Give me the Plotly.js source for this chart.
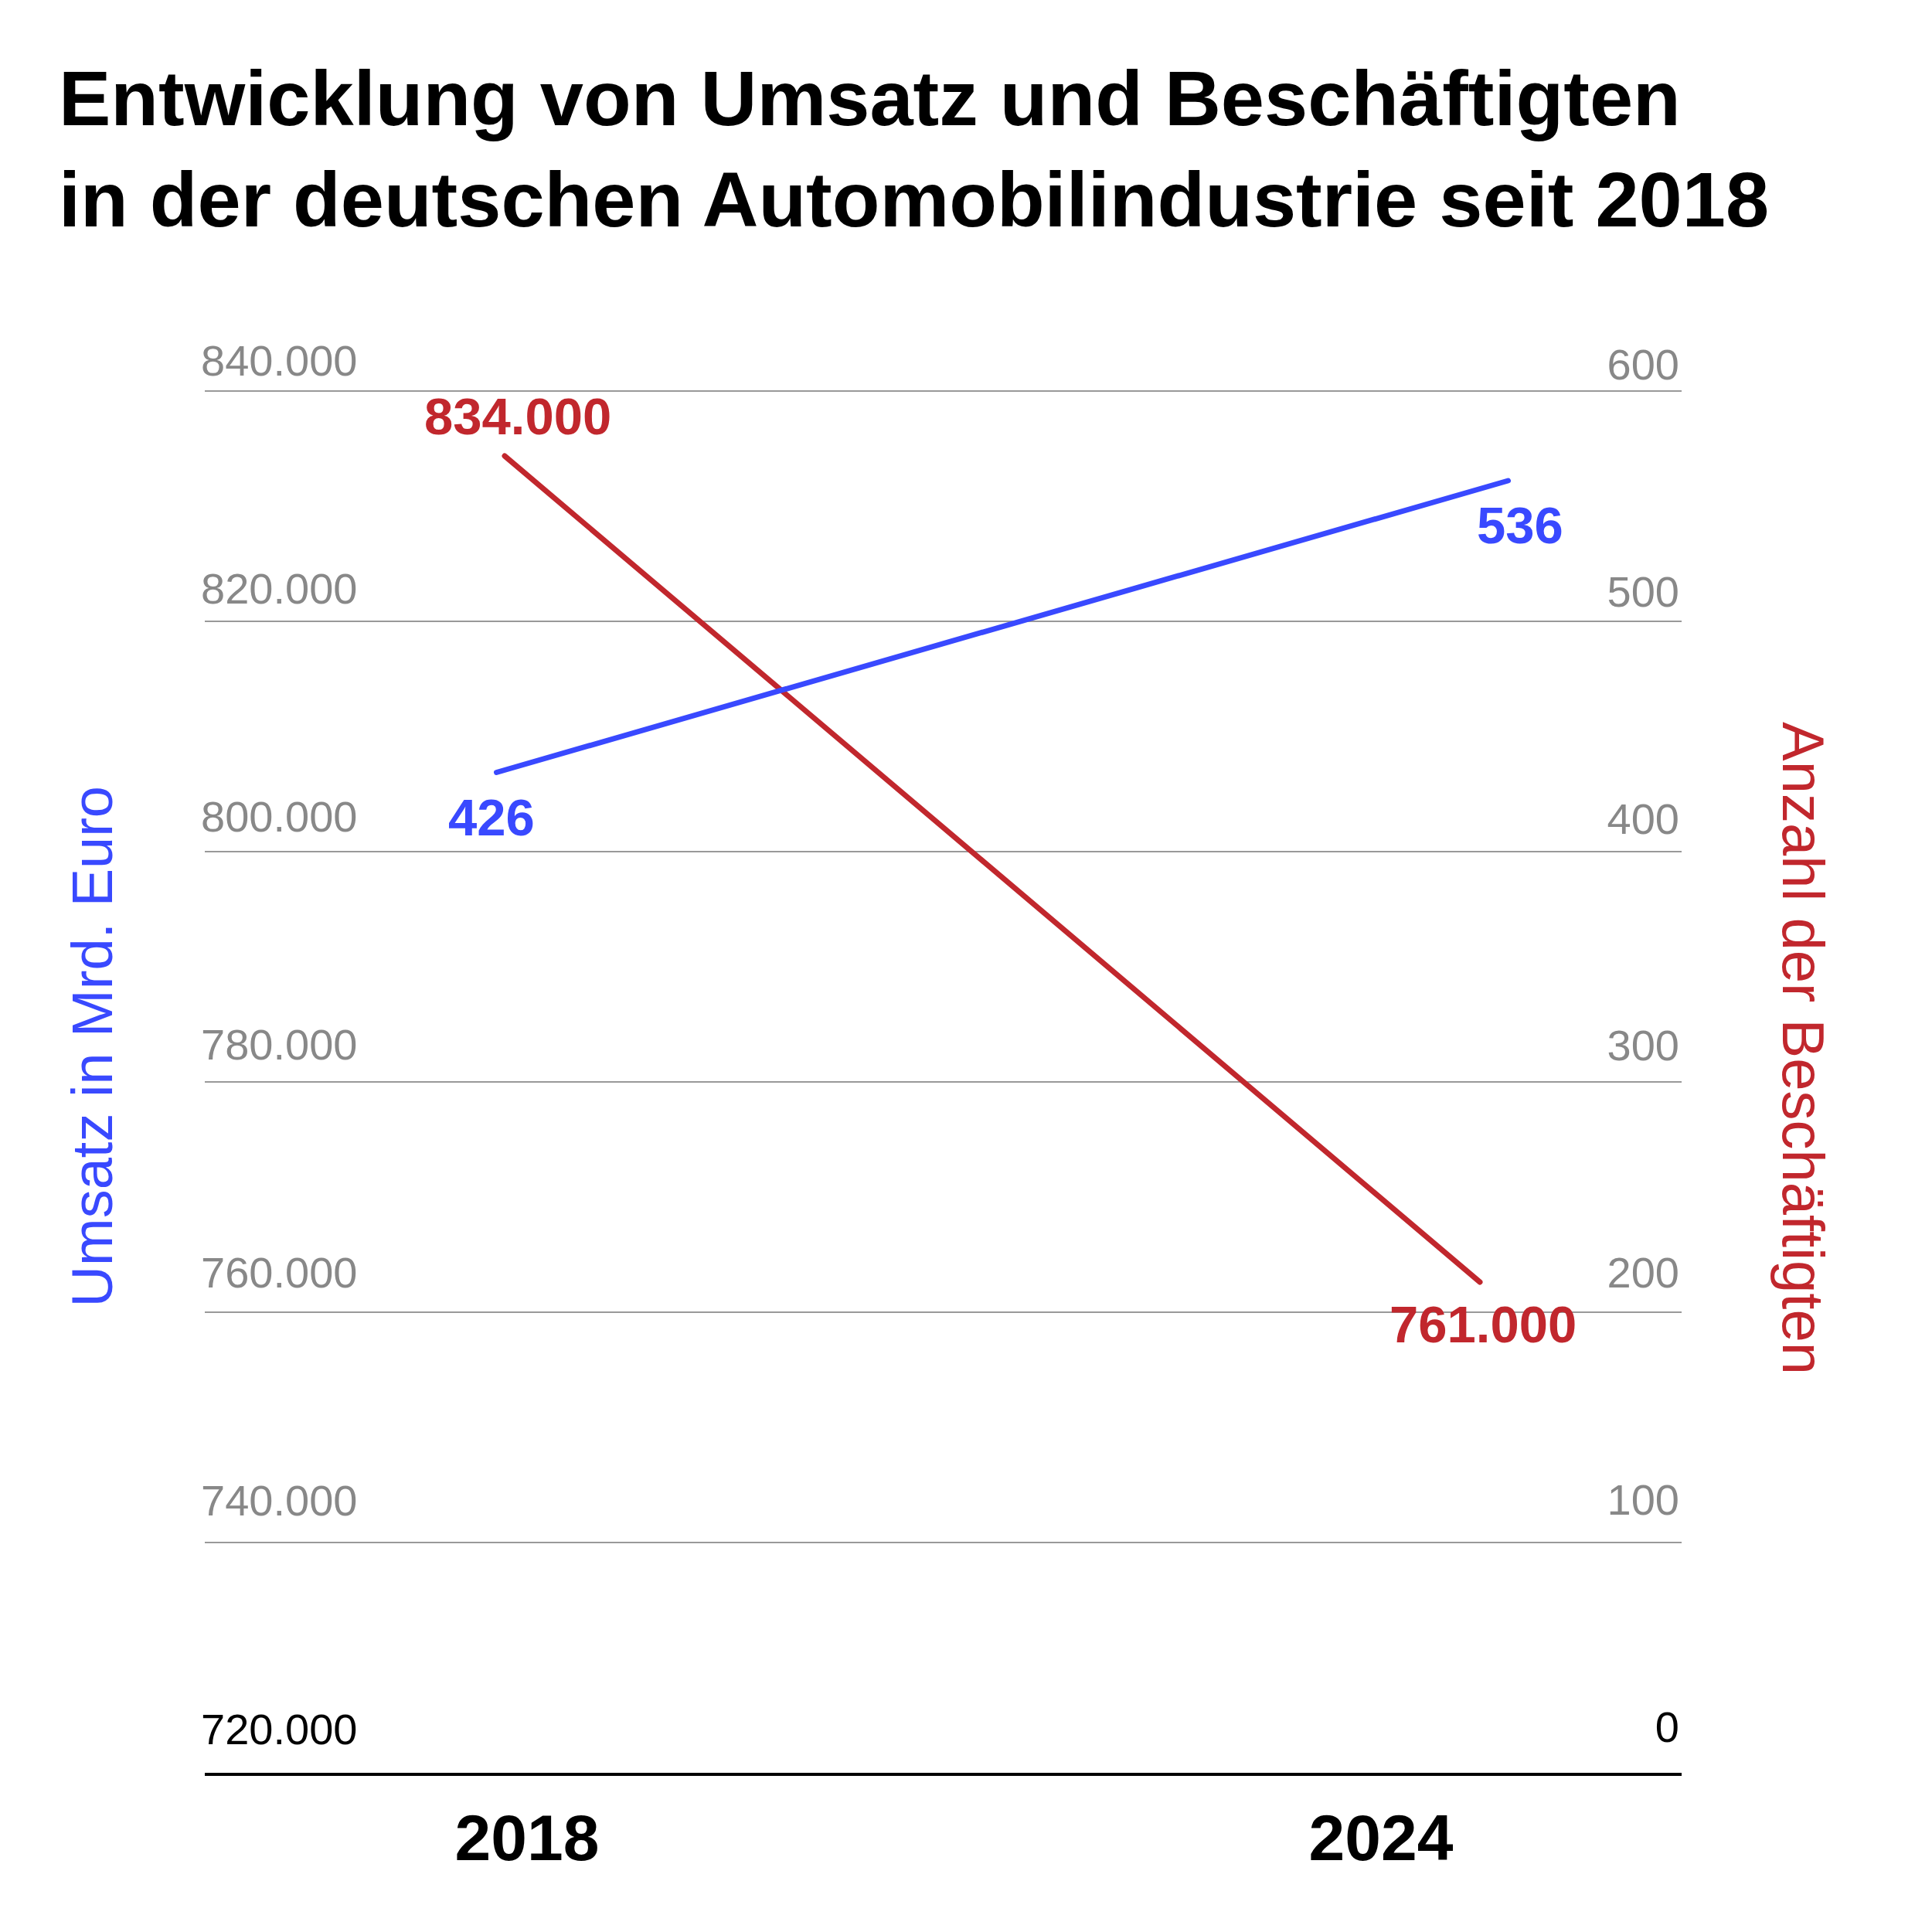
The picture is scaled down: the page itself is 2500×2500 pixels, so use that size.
<!DOCTYPE html>
<html>
<head>
<meta charset="utf-8">
<script src="https://cdn.plot.ly/plotly-3.0.1.min.js"></script>
<style>
  html, body { margin: 0; padding: 0; background: #ffffff; }
  path.js-line { stroke-linecap: round; }
</style>
</head>
<body>
<div id="chart" style="width:2500px;height:2500px;"></div>
<script>
// ---- data ----
const years = [2018, 2024];
const beschaeftigte = [834000, 761000];   // Anzahl der Beschäftigten
const umsatz = [426, 536];                // Umsatz in Mrd. Euro

const leftTickVals = [720000, 740000, 760000, 780000, 800000, 820000, 840000];
const leftTickText = ['<span style="color:#000000">720.000</span>', '740.000', '760.000', '780.000', '800.000', '820.000', '840.000'];
const rightTickVals = [0, 100, 200, 300, 400, 500, 600];
const rightTickText = ['<span style="color:#000000">0</span>', '100', '200', '300', '400', '500', '600'];
const xTickText = ['2018', '2024'];

const titleText = 'Entwicklung von Umsatz und Beschäftigten<br>in der deutschen Automobilindustrie seit 2018';
const leftAxisTitle = 'Umsatz in Mrd. Euro';
const rightAxisTitle = 'Anzahl der Beschäftigten';

// ---- style ----
const RED = '#C1272D';
const BLUE = '#3949FF';
const GREY = '#888888';
const SANS = '"Liberation Sans", Arial, sans-serif';

function fmt(v) {
  return String(v).replace(/\B(?=(\d{3})+(?!\d))/g, '.');
}

const hidden = {showticklabels: false, showgrid: false, zeroline: false, showline: false, ticks: '', fixedrange: true};

// carrier traces draw nothing (mode 'none'); they only attach the
// label / grid axes to a subplot so that Plotly renders them
const carrier = (xa, ya, yvals) => ({
  x: years, y: yvals, xaxis: xa, yaxis: ya, type: 'scatter', mode: 'none',
  hoverinfo: 'skip', showlegend: false
});

const traces = [
  carrier('x2', 'y3', beschaeftigte),
  carrier('x', 'y4', beschaeftigte),
  carrier('x', 'y5', umsatz),
  {
    x: years, y: beschaeftigte, xaxis: 'x', yaxis: 'y',
    type: 'scatter', mode: 'lines',
    line: {color: RED, width: 7},
    hoverinfo: 'skip'
  },
  {
    x: years, y: umsatz, xaxis: 'x3', yaxis: 'y2',
    type: 'scatter', mode: 'lines',
    line: {color: BLUE, width: 7},
    hoverinfo: 'skip'
  }
];

const labelFont = (c) => ({family: SANS, size: 67, color: c, weight: 700});

const annotations = [
  {xref: 'x', yref: 'y', x: years[0], y: beschaeftigte[0], text: fmt(beschaeftigte[0]),
   showarrow: false, xshift: 17, yshift: 52, font: labelFont(RED), xanchor: 'center', yanchor: 'middle'},
  {xref: 'x', yref: 'y', x: years[1], y: beschaeftigte[1], text: fmt(beschaeftigte[1]),
   showarrow: false, xshift: 4, yshift: -54, font: labelFont(RED), xanchor: 'center', yanchor: 'middle'},
  {xref: 'x3', yref: 'y2', x: years[0], y: umsatz[0], text: fmt(umsatz[0]),
   showarrow: false, xshift: -7, yshift: -58, font: labelFont(BLUE), xanchor: 'center', yanchor: 'middle'},
  {xref: 'x3', yref: 'y2', x: years[1], y: umsatz[1], text: fmt(umsatz[1]),
   showarrow: false, xshift: 15, yshift: -58, font: labelFont(BLUE), xanchor: 'center', yanchor: 'middle'},
  {xref: 'paper', yref: 'paper', x: -0.0759, y: 0.5211, text: leftAxisTitle, textangle: -90,
   showarrow: false, xanchor: 'center', yanchor: 'middle',
   font: {family: SANS, size: 74, color: BLUE}},
  {xref: 'paper', yref: 'paper', x: 1.0827, y: 0.5202, text: rightAxisTitle, textangle: 90,
   showarrow: false, xanchor: 'center', yanchor: 'middle',
   font: {family: SANS, size: 76, color: RED}}
];

const layout = {
  width: 2500, height: 2500,
  margin: {l: 265, r: 324, t: 491, b: 206, pad: 0},
  paper_bgcolor: '#ffffff', plot_bgcolor: '#ffffff',
  showlegend: false,
  font: {family: SANS, color: GREY},
  title: {
    text: titleText,
    x: 0.0304, xref: 'container', xanchor: 'left',
    y: 0.9354, yref: 'container', yanchor: 'top',
    font: {family: SANS, size: 101, color: '#000000', weight: 700}
  },
  // red series scale (main subplot)
  xaxis: Object.assign({range: [2016.1553, 2025.2409]}, hidden),
  yaxis: Object.assign({range: [717637, 840761]}, hidden),
  // year labels + baseline
  xaxis2: {
    overlaying: 'x', side: 'bottom', anchor: 'y',
    range: [2015.7358, 2026.1122], tickvals: years, ticktext: xTickText,
    showgrid: false, zeroline: false, showline: true, linecolor: '#000000', linewidth: 4,
    ticks: '', tickfont: {family: SANS, size: 84, color: '#000000', weight: 700},
    ticklabelstandoff: 8, fixedrange: true
  },
  // blue series scale
  xaxis3: Object.assign({overlaying: 'x', range: [2016.2697, 2025.029]}, hidden),
  yaxis2: Object.assign({overlaying: 'y', range: [48.8, 574.17]}, hidden),
  // gridlines
  yaxis3: {
    overlaying: 'y', side: 'left', anchor: 'x',
    range: [720000, 841007], tickvals: leftTickVals.slice(1), showticklabels: false,
    showgrid: true, gridcolor: '#999999', gridwidth: 2, zeroline: false, showline: false,
    ticks: '', fixedrange: true
  },
  // left tick labels
  yaxis4: {
    overlaying: 'y', side: 'left', anchor: 'x',
    range: [719526, 841694], tickvals: leftTickVals, ticktext: leftTickText,
    showgrid: false, zeroline: false, showline: false, ticks: '',
    ticklabelposition: 'inside', ticklabeloverflow: 'allow', ticklabelshift: -50,
    ticklabelstandoff: -8,
    tickfont: {family: SANS, size: 56, color: GREY}, fixedrange: true
  },
  // right tick labels
  yaxis5: {
    overlaying: 'y', side: 'right', anchor: 'x',
    range: [-3.40, 610.45], tickvals: rightTickVals, ticktext: rightTickText,
    showgrid: false, zeroline: false, showline: false, ticks: '',
    ticklabelposition: 'inside', ticklabeloverflow: 'allow', ticklabelshift: -50,
    tickfont: {family: SANS, size: 56, color: GREY}, fixedrange: true
  },
  annotations: annotations
};

Plotly.newPlot('chart', traces, layout, {staticPlot: true, displayModeBar: false});
</script>
</body>
</html>
